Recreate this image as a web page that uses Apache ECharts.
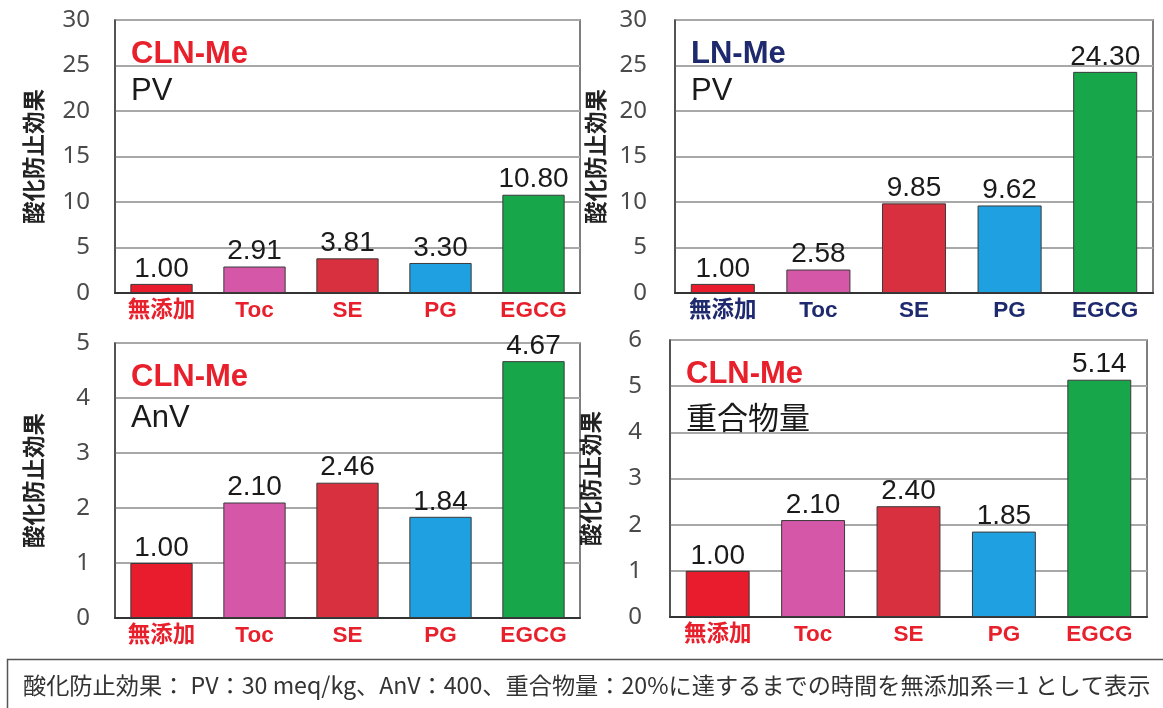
<!DOCTYPE html>
<html>
<head>
<meta charset="utf-8">
<script src="https://cdn.jsdelivr.net/npm/echarts@6/dist/echarts.min.js"></script>
<style>
  html, body { margin: 0; padding: 0; background: #fff; }
  #chart { width: 1163px; height: 708px; }
</style>
</head>
<body>
<div id="chart"></div>
<script>
// Antioxidant effect relative to the additive-free sample (= 1)
const categories = ['無添加', 'Toc', 'SE', 'PG', 'EGCG'];
const pvCLN = [1.00, 2.91, 3.81, 3.30, 10.80];
const pvLN = [1.00, 2.58, 9.85, 9.62, 24.30];
const anvCLN = [1.00, 2.10, 2.46, 1.84, 4.67];
const polyCLN = [1.00, 2.10, 2.40, 1.85, 5.14];

const panelTitles = ['CLN-Me', 'LN-Me', 'CLN-Me', 'CLN-Me'];
const panelSubtitles = ['PV', 'PV', 'AnV', '重合物量'];
const axisTitle = '酸化防止効果';
const caption = '酸化防止効果： PV：30 meq/kg、AnV：400、重合物量：20%に達するまでの時間を無添加系＝1 として表示';

const barColors = ['#e81c2c', '#d557a8', '#d8303e', '#1fa0e0', '#17a64a'];
const RED = '#e8202c';
const NAVY = '#1f2a6e';

const panels = [
  { data: pvCLN, max: 30, interval: 5, grid: { left: 115, top: 20, width: 465, height: 273 }, catColor: RED, titleColor: RED, subTop: 51 },
  { data: pvLN, max: 30, interval: 5, grid: { left: 675, top: 20, width: 478, height: 273 }, catColor: NAVY, titleColor: NAVY, subTop: 51 },
  { data: anvCLN, max: 5, interval: 1, grid: { left: 115, top: 343, width: 465, height: 275 }, catColor: RED, titleColor: RED, subTop: 55 },
  { data: polyCLN, max: 6, interval: 1, grid: { left: 670, top: 340, width: 477, height: 277 }, catColor: RED, titleColor: RED, subTop: 60 }
];

const latin = '"Liberation Sans", "Noto Sans CJK JP", sans-serif';

const option = {
  animation: false,
  backgroundColor: '#ffffff',
  grid: panels.map(p => Object.assign({
    show: true, borderColor: '#555', borderWidth: 1.5, backgroundColor: 'transparent', containLabel: false
  }, p.grid)),
  xAxis: panels.map((p, i) => ({
    type: 'category',
    gridIndex: i,
    data: categories,
    axisTick: { show: false },
    axisLine: { show: true, lineStyle: { color: '#333', width: 2 } },
    axisLabel: {
      color: p.catColor, fontFamily: latin, fontWeight: 'bold', fontSize: 22.5, margin: 7, interval: 0
    }
  })),
  yAxis: panels.map((p, i) => ({
    type: 'value',
    gridIndex: i,
    min: 0, max: p.max, interval: p.interval,
    name: axisTitle,
    nameLocation: 'middle',
    nameRotate: 90,
    nameGap: i % 2 === 0 ? 70 : 68,
    nameTextStyle: { fontFamily: '"Noto Sans CJK JP", sans-serif', fontWeight: 'bold', fontSize: 22.5, color: '#222' },
    axisLine: { show: true, lineStyle: { color: '#444', width: 1.5 } },
    axisTick: { show: false },
    axisLabel: { color: '#4a4a4a', fontFamily: '"Noto Sans", sans-serif', fontSize: 24, margin: i % 2 === 0 ? 25 : 28 },
    splitLine: { show: true, lineStyle: { color: '#a8a8a8', width: 2 } }
  })),
  title: panels.flatMap((p, i) => [
    {
      text: panelTitles[i],
      left: p.grid.left + 11, top: p.grid.top + 14,
      textStyle: { color: p.titleColor, fontFamily: latin, fontWeight: 'bold', fontSize: 31 }
    },
    {
      text: panelSubtitles[i],
      left: p.grid.left + 11, top: p.grid.top + p.subTop,
      textStyle: { color: '#1a1a1a', fontFamily: latin, fontWeight: 'normal', fontSize: 31 }
    }
  ]),
  series: panels.map((p, i) => ({
    type: 'bar',
    xAxisIndex: i,
    yAxisIndex: i,
    barWidth: '67%',
    data: p.data.map((v, k) => ({
      value: v,
      itemStyle: { color: barColors[k], borderColor: '#3a3a3a', borderWidth: 1 }
    })),
    label: {
      show: true,
      position: 'top',
      distance: 1,
      formatter: d => d.value.toFixed(2),
      fontFamily: latin,
      fontSize: 28,
      color: '#1a1a1a'
    }
  })),
  graphic: [
    {
      type: 'rect',
      shape: { x: 7.5, y: 659.5, width: 1170, height: 70 },
      style: { fill: 'none', stroke: '#555', lineWidth: 1.5 }
    },
    {
      type: 'text',
      left: 23, top: 674,
      style: {
        text: caption,
        fill: '#333',
        font: '23.2px "Noto Sans CJK JP", sans-serif'
      }
    }
  ]
};

const chart = echarts.init(document.getElementById('chart'), null, { renderer: 'canvas' });
chart.setOption(option);
</script>
</body>
</html>
